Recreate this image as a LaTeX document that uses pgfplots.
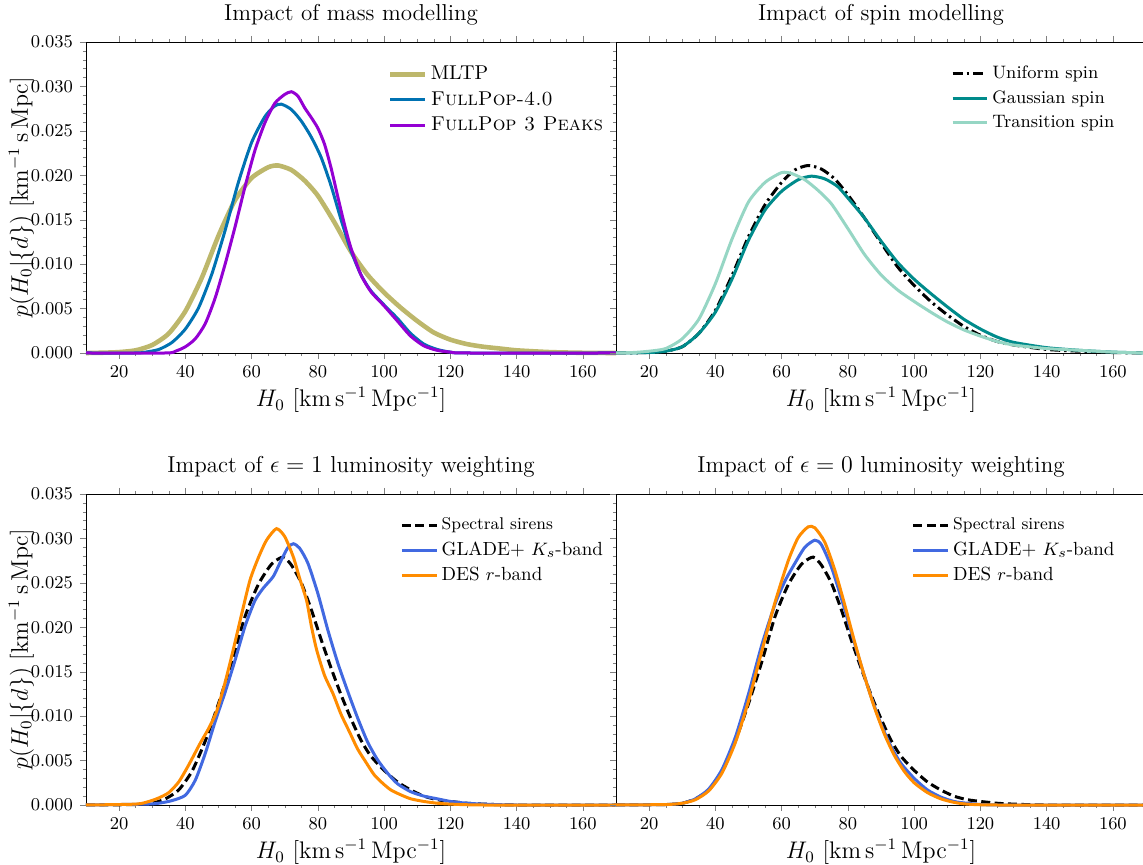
\documentclass[border=0pt]{standalone}
\usepackage{pgfplots}
\pgfplotsset{compat=1.18}
\definecolor{khaki}{RGB}{189,183,107}
\definecolor{fpblue}{RGB}{0,114,178}
\definecolor{fpviolet}{RGB}{148,0,211}
\definecolor{gteal}{RGB}{0,139,139}
\definecolor{tteal}{RGB}{150,214,196}
\definecolor{gblue}{RGB}{65,105,225}
\definecolor{dorange}{RGB}{255,140,0}
\pgfplotsset{
  panel/.style={
    scale only axis, width=265pt, height=155.5pt,
    xmin=10, xmax=170, ymin=0, ymax=0.035,
    xtick={20,40,60,80,100,120,140,160},
    ytick={0,0.005,0.01,0.015,0.02,0.025,0.03,0.035},
    minor x tick num=3, minor y tick num=4,
    tick align=outside, ytick pos=left,
    major tick length=3pt, minor tick length=1.6pt,
    scaled y ticks=false,
    yticklabel style={/pgf/number format/.cd, fixed, fixed zerofill, precision=3},
    tick label style={font=\fontsize{9.5}{11}\selectfont},
    label style={font=\fontsize{12}{14}\selectfont},
    title style={font=\fontsize{11.5}{14}\selectfont, yshift=-1pt},
    xlabel={$H_0\ [\mathrm{km\,s^{-1}\,Mpc^{-1}}]$},
    xlabel style={yshift=2pt},
    clip=false,
    legend cell align=left,
    legend style={draw=none, fill=none, anchor=north east, row sep=0.5pt},
    every axis plot/.append style={smooth, tension=0.4, line width=1.5pt},
  },
  ylab/.style={ylabel={$p(H_0|\{d\})\ [\mathrm{km^{-1}\,s\,Mpc}]$},
    ylabel style={at={(axis description cs:-0.122,0.5)}, anchor=center}},
  nolab/.style={yticklabels={}},
}
\begin{document}
\begin{tikzpicture}
\useasboundingbox (0,0) rectangle (571.5pt,432.5pt);
% ---------------- top left
\begin{axis}[panel, ylab, at={(43pt,256pt)}, anchor=south west,
  title={Impact of mass modelling},
  legend style={at={(0.995,0.95)}, font=\fontsize{10}{12}\selectfont}]
\addplot[khaki, line width=2.3pt] coordinates {(10,0) (15,0.00003) (20,0.0001) (25,0.0003) (30,0.0009) (35,0.0022) (40,0.0047) (45,0.0085) (50,0.0132) (55,0.0172) (60,0.0197) (65,0.0209) (68,0.0211) (72,0.0206) (76,0.0194) (80,0.0177) (85,0.0147) (90,0.0114) (95,0.0088) (100,0.0068) (105,0.0051) (110,0.0036) (115,0.0023) (120,0.0015) (125,0.0010) (130,0.0007) (135,0.0005) (140,0.0003) (150,0.0001) (160,0.00002) (170,0)};
\addlegendentry{MLTP}
\addplot[fpblue] coordinates {(10,0) (25,0) (28,0.0001) (32,0.0004) (36,0.0012) (40,0.0027) (44,0.0051) (48,0.0089) (52,0.0138) (56,0.0192) (60,0.0237) (64,0.0266) (67,0.0278) (69,0.0280) (72,0.0274) (75,0.0261) (78,0.0243) (81,0.0220) (84,0.0188) (87,0.0150) (90,0.0115) (93,0.0088) (96,0.0070) (100,0.0054) (104,0.0039) (108,0.0022) (112,0.0010) (116,0.0004) (120,0.0001) (125,0) (170,0)};
\addlegendentry{\textsc{FullPop-4.0}}
\addplot[fpviolet] coordinates {(10,0) (34,0) (37,0.0002) (40,0.0007) (43,0.0016) (46,0.0033) (49,0.0062) (52,0.0100) (55,0.0142) (58,0.0187) (61,0.0228) (64,0.0259) (67,0.0281) (70,0.0291) (72,0.0294) (74,0.0289) (76,0.0276) (78,0.0265) (80,0.0253) (82,0.0235) (84,0.0208) (86,0.0176) (88,0.0145) (90,0.0118) (93,0.0088) (96,0.0069) (100,0.0053) (104,0.0036) (108,0.0019) (112,0.0008) (116,0.0003) (120,0.0001) (125,0) (170,0)};
\addlegendentry{\textsc{FullPop 3 Peaks}}
\end{axis}
% ---------------- top right
\begin{axis}[panel, nolab, at={(308pt,256pt)}, anchor=south west,
  title={Impact of spin modelling},
  legend style={at={(0.96,0.95)}, font=\fontsize{9}{11}\selectfont}]
\addplot[black, dash pattern=on 5pt off 2pt on 1.2pt off 2pt] coordinates {(10,0) (20,0.00005) (25,0.0002) (30,0.0007) (35,0.0022) (40,0.0048) (45,0.0087) (50,0.0131) (55,0.0167) (60,0.0192) (64,0.0206) (68,0.0211) (72,0.0207) (76,0.0196) (80,0.0178) (85,0.0152) (90,0.0124) (95,0.0097) (100,0.0076) (105,0.0058) (110,0.0043) (115,0.0030) (120,0.0020) (125,0.0013) (130,0.0009) (140,0.0004) (150,0.0002) (160,0.00005) (170,0)};
\addlegendentry{Uniform spin}
\addplot[gteal] coordinates {(10,0) (20,0.00005) (25,0.0002) (30,0.0007) (35,0.0022) (40,0.0046) (45,0.0083) (50,0.0127) (55,0.0161) (60,0.0182) (65,0.0195) (69,0.0199) (73,0.0196) (77,0.0187) (81,0.0170) (85,0.0152) (90,0.0126) (95,0.0102) (100,0.0083) (105,0.0067) (110,0.0052) (115,0.0038) (120,0.0027) (125,0.0018) (130,0.0012) (140,0.0006) (150,0.0003) (160,0.0001) (170,0)};
\addlegendentry{Gaussian spin}
\addplot[tteal] coordinates {(10,0) (15,0.00005) (20,0.0002) (25,0.0005) (30,0.0016) (35,0.0038) (40,0.0078) (45,0.0128) (50,0.0170) (55,0.0192) (60,0.0203) (63,0.0202) (67,0.0195) (71,0.0183) (75,0.0168) (80,0.0140) (85,0.0111) (90,0.0088) (95,0.0071) (100,0.0058) (105,0.0046) (110,0.0035) (115,0.0026) (120,0.0019) (125,0.0013) (130,0.0009) (140,0.0005) (150,0.0003) (160,0.0001) (170,0)};
\addlegendentry{Transition spin}
\end{axis}
% ---------------- bottom left
\begin{axis}[panel, ylab, at={(43pt,30pt)}, anchor=south west,
  title={Impact of $\epsilon=1$ luminosity weighting},
  legend style={at={(0.995,0.95)}, font=\fontsize{9.5}{11}\selectfont}]
\addplot[black, dash pattern=on 4.5pt off 2.2pt] coordinates {(10,0) (25,0.00005) (30,0.0002) (34,0.0007) (38,0.0017) (42,0.0038) (46,0.0072) (50,0.0114) (54,0.0161) (58,0.0212) (62,0.0248) (66,0.0271) (69.5,0.0279) (72,0.0270) (75,0.0250) (78,0.0220) (81,0.0186) (84,0.0154) (87,0.0124) (90,0.0097) (93,0.0073) (96,0.0055) (100,0.0039) (104,0.0026) (108,0.0017) (112,0.0010) (116,0.0006) (120,0.0004) (125,0.0002) (130,0.0001) (140,0) (170,0)};
\addlegendentry{\fontsize{8.5}{10}\selectfont Spectral sirens}
\addplot[gblue] coordinates {(10,0) (28,0.0001) (32,0.0002) (36,0.0005) (40,0.0011) (43,0.0028) (46,0.0058) (49,0.0094) (52,0.0127) (55,0.0163) (58,0.0201) (61,0.0230) (63.5,0.0244) (66.5,0.0257) (69,0.0276) (71,0.0290) (72.6,0.0294) (74.5,0.0289) (77,0.0272) (80,0.0238) (83,0.0197) (86,0.0160) (89,0.0128) (92,0.0098) (95,0.0071) (98,0.0051) (101,0.0036) (104,0.0024) (108,0.0015) (112,0.0010) (116,0.0007) (120,0.0004) (125,0.0002) (130,0.0001) (140,0) (170,0)};
\addlegendentry{GLADE+ $K_s$-band}
\addplot[dorange] coordinates {(10,0) (25,0.0001) (29,0.0004) (32,0.0008) (35,0.0014) (38,0.0026) (41,0.0045) (44.4,0.0069) (47,0.0086) (49.4,0.0105) (52,0.0138) (54.4,0.0174) (57,0.0215) (59.5,0.0253) (62,0.0278) (64.5,0.0298) (67.5,0.0311) (70,0.0302) (72.6,0.0279) (74.5,0.0255) (76.6,0.0230) (78,0.0202) (79.6,0.0175) (82,0.0146) (84.6,0.0125) (87,0.0102) (89.7,0.0081) (92,0.0063) (94.7,0.0047) (97,0.0034) (99.7,0.0024) (102,0.0017) (104.7,0.0012) (108,0.0007) (112,0.0004) (116,0.0002) (120,0.0001) (130,0) (170,0)};
\addlegendentry{DES $r$-band}
\end{axis}
% ---------------- bottom right
\begin{axis}[panel, nolab, at={(308pt,30pt)}, anchor=south west,
  title={Impact of $\epsilon=0$ luminosity weighting},
  legend style={at={(0.96,0.95)}, font=\fontsize{9.5}{11}\selectfont}]
\addplot[black, dash pattern=on 4.5pt off 2.2pt] coordinates {(10,0) (25,0.00005) (30,0.0002) (34,0.0007) (38,0.0017) (42,0.0038) (46,0.0072) (50,0.0114) (54,0.0161) (58,0.0212) (62,0.0248) (66,0.0271) (69.5,0.0279) (72,0.0270) (75,0.0250) (78,0.0220) (81,0.0186) (84,0.0154) (87,0.0124) (90,0.0097) (93,0.0073) (96,0.0055) (100,0.0039) (104,0.0026) (108,0.0017) (112,0.0010) (116,0.0006) (120,0.0004) (125,0.0002) (130,0.0001) (140,0) (170,0)};
\addlegendentry{\fontsize{8.5}{10}\selectfont Spectral sirens}
\addplot[gblue] coordinates {(10,0) (25,0.00005) (30,0.0002) (34,0.0007) (38,0.0018) (42,0.0040) (46,0.0076) (50,0.0125) (54,0.0180) (58,0.0226) (61,0.0252) (64,0.0272) (67,0.0290) (70,0.0298) (72,0.0293) (75,0.0268) (78,0.0233) (81,0.0195) (84,0.0157) (87,0.0122) (90,0.0091) (93,0.0066) (96,0.0047) (100,0.0030) (104,0.0017) (108,0.0009) (112,0.0004) (116,0.0002) (125,0) (170,0)};
\addlegendentry{GLADE+ $K_s$-band}
\addplot[dorange] coordinates {(10,0) (25,0.00005) (30,0.0002) (34,0.0006) (38,0.0016) (42,0.0036) (46,0.0070) (50,0.0117) (54,0.0173) (58,0.0228) (62,0.0275) (65,0.0301) (68,0.0313) (70,0.0312) (73,0.0296) (76,0.0265) (79,0.0226) (82,0.0184) (85,0.0145) (88,0.0110) (91,0.0080) (94,0.0056) (97,0.0038) (100,0.0025) (104,0.0014) (108,0.0007) (112,0.0003) (116,0.0001) (125,0) (170,0)};
\addlegendentry{DES $r$-band}
\end{axis}
\end{tikzpicture}
\end{document}
